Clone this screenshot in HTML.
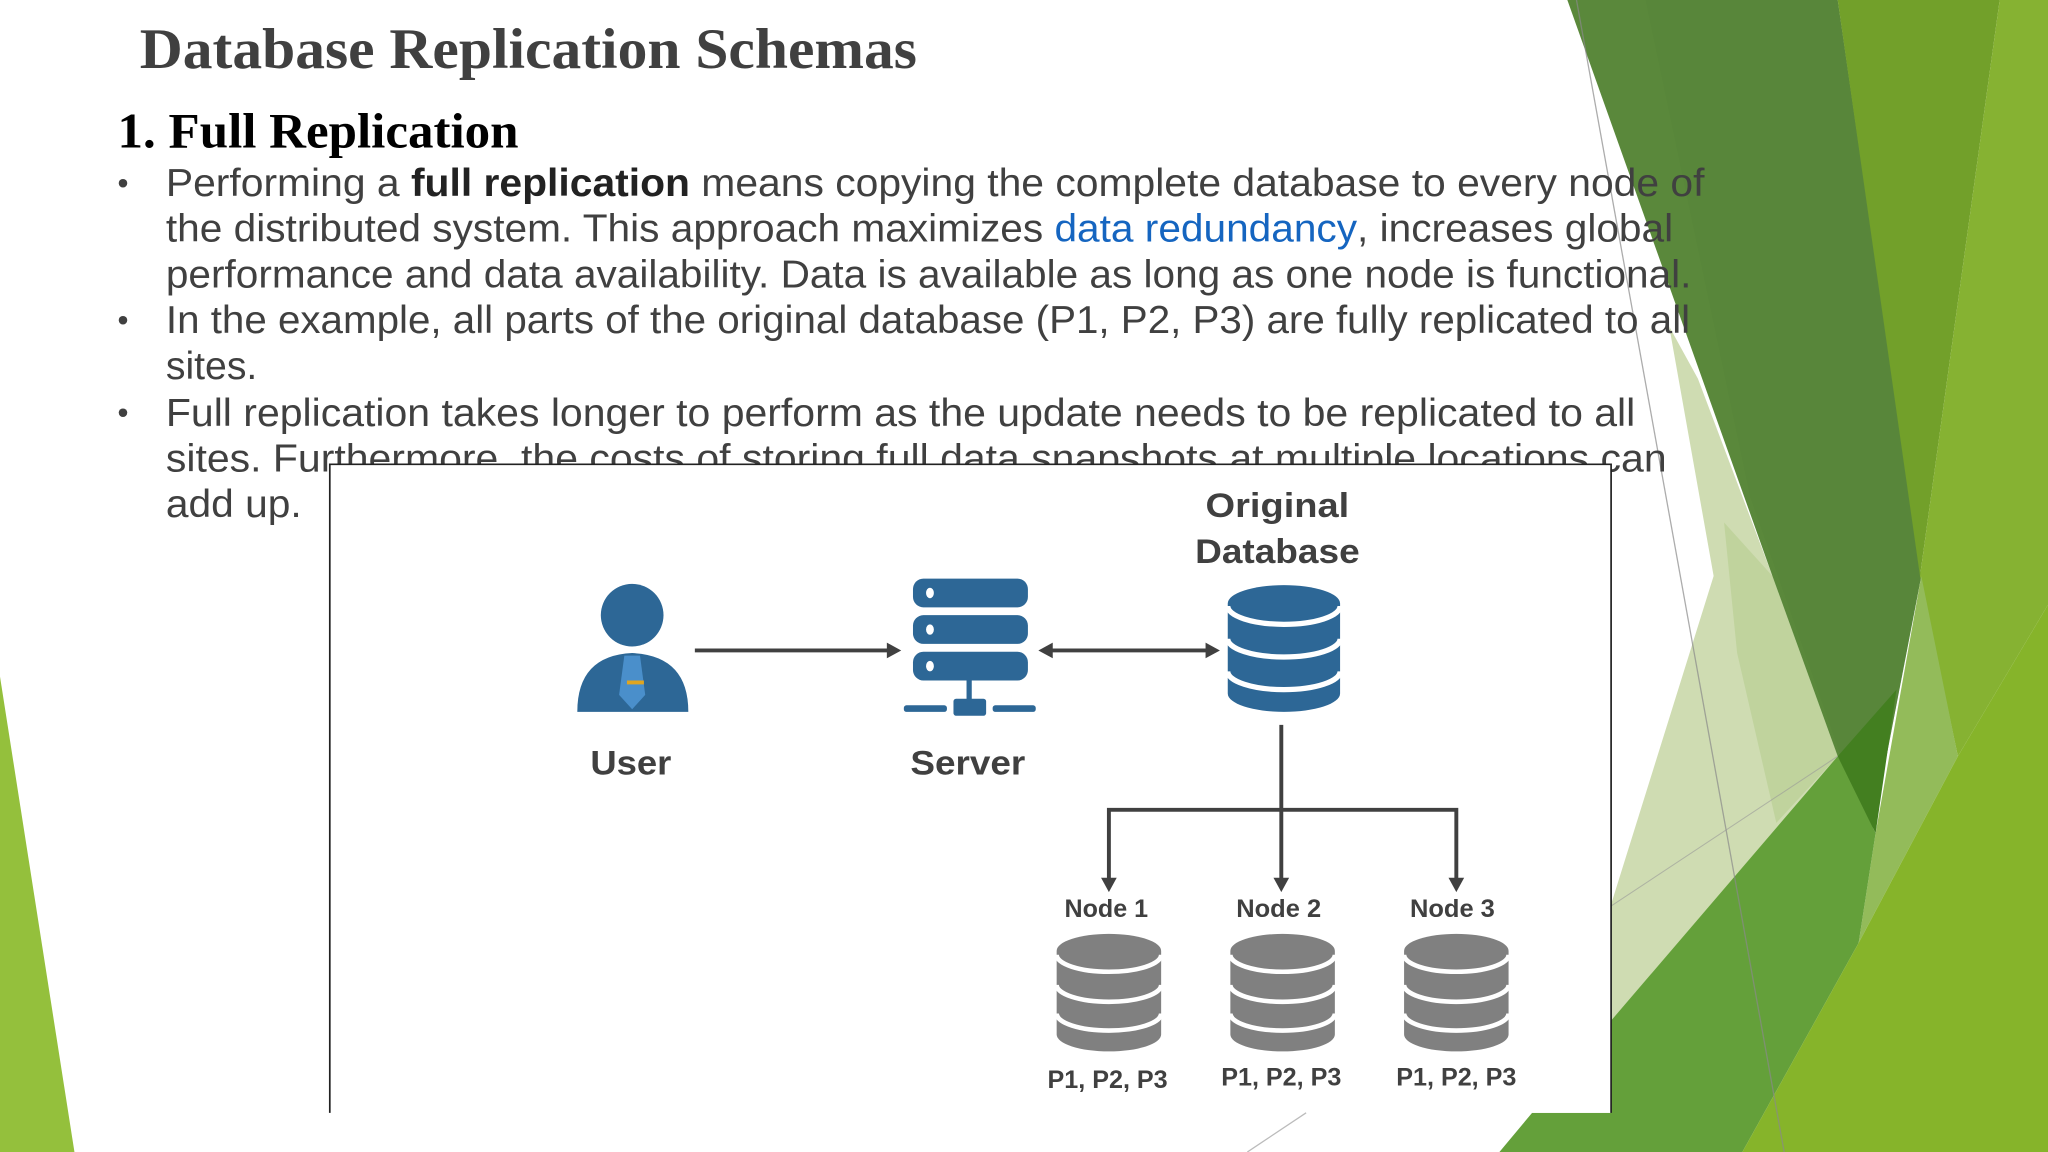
<!DOCTYPE html>
<html><head><meta charset="utf-8"><style>
html,body{margin:0;padding:0;background:#fff;width:2048px;height:1152px;overflow:hidden}
svg{display:block}
</style></head><body>
<svg width="2048" height="1152" viewBox="0 0 1568 882" xmlns="http://www.w3.org/2000/svg">
<rect width="1568" height="882" fill="#fff"/>
<!-- background green shapes -->
<polygon points="1278,250 1312,441 1233,694 1233,790 1407,579 1357,441 1300,290" fill="#cfdcb2"/>
<polygon points="1320,400 1357,441 1407,579 1360,630 1330,500" fill="#bcd197" opacity="0.8"/>
<polygon points="1200,0 1407,0 1471,441 1432,643 1407,579 1357,441" fill="#5a883b"/>
<polygon points="1260,0 1407,0 1471,441 1432,643 1340,380" fill="#55833a" opacity="0.5"/>
<polygon points="1407,0 1531,0 1470,441" fill="#72a02a"/>
<polygon points="1531,0 1568,0 1568,463 1499,579 1470,441" fill="#86b232"/>
<polygon points="1471,441 1499,579 1423,722 1436,638" fill="#93bb5a"/>
<polygon points="1233,782 1407,579 1436,638 1423,722 1334,882 1148,882 1173,852 1233,852" fill="#64a03a"/>
<polygon points="1407,579 1452,528 1436,638" fill="#437f20"/>
<polygon points="1568,463 1568,882 1334,882 1423,722 1499,579" fill="#86b42a"/>
<line x1="1207" y1="0" x2="1366" y2="882" stroke="#8a8a8a" stroke-width="1" opacity="0.7"/>
<line x1="1233" y1="694" x2="1407" y2="579" stroke="#999" stroke-width="0.8" opacity="0.6"/>
<polygon points="0,518 0,882 57,882" fill="#94c03c"/>

<!-- title -->
<text x="107" y="52" font-family="Liberation Serif, serif" font-weight="bold" font-size="44" fill="#404040" textLength="595" lengthAdjust="spacingAndGlyphs">Database Replication Schemas</text>
<text x="90" y="113" font-family="Liberation Serif, serif" font-weight="bold" font-size="38" fill="#000" textLength="307" lengthAdjust="spacingAndGlyphs">1. Full Replication</text>

<g font-family="Liberation Sans, sans-serif" font-size="30" fill="#404040">
<text x="90" y="148" font-size="24">•</text>
<text x="90" y="253" font-size="24">•</text>
<text x="90" y="324" font-size="24">•</text>
<text x="127" y="150" textLength="1178" lengthAdjust="spacingAndGlyphs">Performing a <tspan font-weight="bold" fill="#222">full replication</tspan> means copying the complete database to every node of</text>
<text x="127" y="185" textLength="1154" lengthAdjust="spacingAndGlyphs">the distributed system. This approach maximizes <tspan fill="#1565c0">data redundancy</tspan>, increases global</text>
<text x="127" y="220" textLength="1168" lengthAdjust="spacingAndGlyphs">performance and data availability. Data is available as long as one node is functional.</text>
<text x="127" y="255" textLength="1167" lengthAdjust="spacingAndGlyphs">In the example, all parts of the original database (P1, P2, P3) are fully replicated to all</text>
<text x="127" y="290" textLength="70" lengthAdjust="spacingAndGlyphs">sites.</text>
<text x="127" y="326" textLength="1125" lengthAdjust="spacingAndGlyphs">Full replication takes longer to perform as the update needs to be replicated to all</text>
<text x="127" y="361" textLength="1149" lengthAdjust="spacingAndGlyphs">sites. Furthermore, the costs of storing full data snapshots at multiple locations can</text>
<text x="127" y="396" textLength="104" lengthAdjust="spacingAndGlyphs">add up.</text>
</g>

<!-- diagram box -->
<rect x="252" y="355" width="981" height="497" fill="#fff"/>
<path d="M252.5,852 V355.5 H1233.5 V852" fill="none" stroke="#222" stroke-width="1.3"/>

<!-- user -->
<circle cx="484" cy="471" r="24" fill="#2d6796"/>
<path d="M442,545 Q442,502 484,500 Q527,502 527,545 Z" fill="#2d6796"/>
<path d="M478,502 L490,502 L494,532 L484,543 L474,532 Z" fill="#4a8fcb"/>
<rect x="480" y="521" width="13" height="3" fill="#e0a520"/>
<!-- server -->
<g fill="#2d6796">
<rect x="699" y="443" width="88" height="22" rx="8"/>
<rect x="699" y="471" width="88" height="22" rx="8"/>
<rect x="699" y="499" width="88" height="22" rx="8"/>
<rect x="740" y="521" width="4" height="16"/>
<rect x="730" y="535" width="25" height="13" rx="2"/>
<rect x="692" y="540" width="33" height="5" rx="2"/>
<rect x="760" y="540" width="33" height="5" rx="2"/>
</g>
<g fill="#fff"><ellipse cx="712" cy="454" rx="3" ry="4"/><ellipse cx="712" cy="482" rx="3" ry="4"/><ellipse cx="712" cy="510" rx="3" ry="4"/></g>
<!-- original db -->
<g>
<path d="M940,462 A43,14 0 0 1 1026,462 V531 A43,14 0 0 1 940,531 Z" fill="#2d6796"/>
<g fill="none" stroke="#fff" stroke-width="4">
<path d="M940,464 A43,14 0 0 0 1026,464"/>
<path d="M940,489 A43,14 0 0 0 1026,489"/>
<path d="M940,514 A43,14 0 0 0 1026,514"/>
</g>
</g>
<!-- labels -->
<g font-family="Liberation Sans, sans-serif" font-weight="bold" fill="#404040" text-anchor="middle">
<text x="483" y="593" font-size="26" textLength="62" lengthAdjust="spacingAndGlyphs">User</text>
<text x="741" y="593" font-size="26" textLength="88" lengthAdjust="spacingAndGlyphs">Server</text>
<text x="978" y="396" font-size="26" textLength="110" lengthAdjust="spacingAndGlyphs">Original</text>
<text x="978" y="431" font-size="26" textLength="126" lengthAdjust="spacingAndGlyphs">Database</text>
<text x="847" y="702" font-size="19" textLength="64" lengthAdjust="spacingAndGlyphs">Node 1</text>
<text x="979" y="702" font-size="19" textLength="65" lengthAdjust="spacingAndGlyphs">Node 2</text>
<text x="1112" y="702" font-size="19" textLength="65" lengthAdjust="spacingAndGlyphs">Node 3</text>
<text x="848" y="833" font-size="19" textLength="92" lengthAdjust="spacingAndGlyphs">P1, P2, P3</text>
<text x="981" y="831" font-size="19" textLength="92" lengthAdjust="spacingAndGlyphs">P1, P2, P3</text>
<text x="1115" y="831" font-size="19" textLength="92" lengthAdjust="spacingAndGlyphs">P1, P2, P3</text>
</g>
<!-- arrows -->
<g stroke="#404040" stroke-width="3" fill="none">
<line x1="532" y1="498" x2="682" y2="498"/>
<line x1="803" y1="498" x2="926" y2="498"/>
<path d="M981,555 V676 M849,676 V620 H1115 V676"/>
</g>
<g fill="#404040">
<path d="M690,498 L679,492 L679,504 Z"/>
<path d="M795,498 L806,492 L806,504 Z"/>
<path d="M934,498 L923,492 L923,504 Z"/>
<path d="M849,683 L843,672 L855,672 Z"/>
<path d="M981,683 L975,672 L987,672 Z"/>
<path d="M1115,683 L1109,672 L1121,672 Z"/>
</g>
<!-- node dbs -->
<g>
<path d="M809,728 A40,13 0 0 1 889,728 V792 A40,13 0 0 1 809,792 Z" fill="#808080"/>
<path d="M942,728 A40,13 0 0 1 1022,728 V792 A40,13 0 0 1 942,792 Z" fill="#808080"/>
<path d="M1075,728 A40,13 0 0 1 1155,728 V792 A40,13 0 0 1 1075,792 Z" fill="#808080"/>
<g fill="none" stroke="#fff" stroke-width="3.5">
<path d="M809,731 A40,13 0 0 0 889,731 M809,754 A40,13 0 0 0 889,754 M809,776 A40,13 0 0 0 889,776"/>
<path d="M942,731 A40,13 0 0 0 1022,731 M942,754 A40,13 0 0 0 1022,754 M942,776 A40,13 0 0 0 1022,776"/>
<path d="M1075,731 A40,13 0 0 0 1155,731 M1075,754 A40,13 0 0 0 1155,754 M1075,776 A40,13 0 0 0 1155,776"/>
</g>
</g>
<line x1="955" y1="882" x2="1000" y2="852" stroke="#bbb" stroke-width="1"/>
</svg>
</body></html>
